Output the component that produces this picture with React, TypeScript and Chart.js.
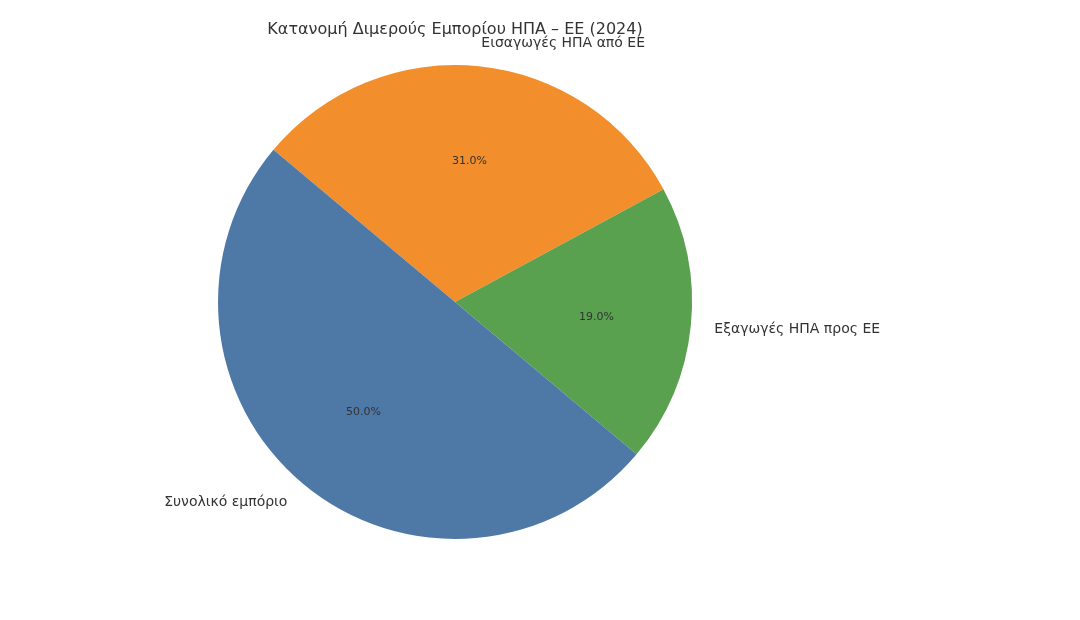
import React, { useEffect, useRef } from "react";
import { Chart, registerables } from "chart.js";

Chart.register(...registerables);

const TITLE = "Κατανομή Διμερούς Εμπορίου ΗΠΑ – ΕΕ (2024)";
const categories = ["Εισαγωγές ΗΠΑ από ΕΕ", "Εξαγωγές ΗΠΑ προς ΕΕ", "Συνολικό εμπόριο"];
const shares = [31.0, 19.0, 50.0];
const colors = ["#f28e2b", "#59a14f", "#4e79a7"];

const FONT = "'DejaVu Sans', sans-serif";

const labelPlugin = {
  id: "mplLabels",
  afterDraw(chart: any) {
    const ctx = chart.ctx;
    const meta = chart.getDatasetMeta(0);
    const total = shares.reduce((a, b) => a + b, 0);
    ctx.save();
    ctx.fillStyle = "#333333";
    meta.data.forEach((arc: any, i: number) => {
      const { x, y, startAngle, endAngle, outerRadius } = arc.getProps(
        ["x", "y", "startAngle", "endAngle", "outerRadius"],
        true
      );
      const mid = (startAngle + endAngle) / 2;
      const lx = x + Math.cos(mid) * outerRadius * 1.1;
      const ly = y + Math.sin(mid) * outerRadius * 1.1;
      ctx.font = `14px ${FONT}`;
      ctx.textBaseline = "middle";
      ctx.textAlign = Math.cos(mid) >= 0 ? "left" : "right";
      ctx.fillText(categories[i], lx, ly + 1);
      const px = x + Math.cos(mid) * outerRadius * 0.6;
      const py = y + Math.sin(mid) * outerRadius * 0.6;
      ctx.font = `11px ${FONT}`;
      ctx.textAlign = "center";
      ctx.fillText(((shares[i] / total) * 100).toFixed(1) + "%", px, py + 1);
    });
    const cx = meta.data[0].x;
    ctx.font = `16px ${FONT}`;
    ctx.textAlign = "center";
    ctx.textBaseline = "middle";
    ctx.fillText(TITLE, cx, 30);
    ctx.restore();
  },
};

export default function App() {
  const ref = useRef<HTMLCanvasElement>(null);
  useEffect(() => {
    document.body.style.margin = "0";
    const chart = new Chart(ref.current!, {
      type: "pie",
      data: {
        labels: categories,
        datasets: [
          {
            data: shares,
            backgroundColor: colors,
            borderWidth: 0,
          },
        ],
      },
      options: {
        responsive: false,
        animation: false,
        rotation: -50,
        layout: { padding: { left: 218, right: 388, top: 65, bottom: 81 } },
        plugins: {
          legend: { display: false },
          tooltip: { enabled: false },
          title: { display: false },
        },
      },
      plugins: [labelPlugin],
    });
    return () => chart.destroy();
  }, []);
  return (
    <div style={{ width: 1080, height: 620, background: "#ffffff" }}>
      <canvas ref={ref} width={1080} height={620} />
    </div>
  );
}
